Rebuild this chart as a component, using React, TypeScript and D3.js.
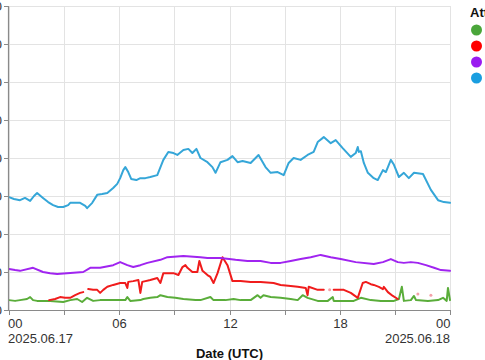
import React from "react";
import * as d3 from "d3";

const W = 485;
const H = 360;

const seriesNames = ["Series A", "Series B", "Series C", "Series D"];
const seriesColors = ["#5aad3a", "#f01c1c", "#a024f0", "#35a6d8"];
const legendColors = ["#4aa63a", "#ff0000", "#9a1cf0", "#1a9ee0"];

const yTicks = [0, 10, 20, 30, 40, 50, 60, 70, 80];
const xTickHours = [0, 3, 6, 9, 12, 15, 18, 21, 24];
const xTickLabels = ["00", "", "06", "", "12", "", "18", "", "00"];
const dateLabels = ["2025.06.17", "2025.06.18"];

// hours since 2025.06.17 00:00 UTC
const blueHours = [0, 0.27, 0.6, 0.87, 1.15, 1.36, 1.53, 1.85, 2.13, 2.4, 2.67, 2.95, 3.22, 3.33, 3.6, 3.87, 4.15, 4.25, 4.53, 4.8, 5.07, 5.35, 5.67, 5.89, 6.05, 6.22, 6.33, 6.49, 6.65, 6.93, 7.15, 7.42, 7.69, 8.07, 8.4, 8.67, 8.95, 9.16, 9.49, 9.76, 9.98, 10.2, 10.42, 10.8, 11.07, 11.24, 11.51, 11.89, 12.16, 12.44, 12.71, 13.15, 13.58, 13.96, 14.24, 14.62, 14.95, 15.22, 15.49, 15.87, 16.25, 16.58, 16.8, 17.13, 17.51, 17.78, 18.16, 18.6, 18.87, 18.98, 19.04, 19.15, 19.31, 19.53, 19.85, 20.07, 20.35, 20.51, 20.78, 20.95, 21.22, 21.49, 21.76, 22.04, 22.53, 22.96, 23.35, 23.67, 24];
const blueValues = [29.7, 29.2, 28.9, 29.5, 28.7, 30.0, 30.8, 29.5, 28.4, 27.6, 27.1, 27.1, 27.6, 28.2, 28.2, 28.2, 27.4, 26.8, 28.2, 30.3, 30.5, 30.8, 32.1, 33.2, 34.7, 36.8, 37.6, 36.3, 34.5, 34.2, 34.7, 34.7, 35.0, 35.5, 39.5, 41.6, 41.3, 40.8, 42.1, 42.4, 41.3, 42.4, 40.0, 38.9, 37.6, 36.1, 38.9, 39.5, 40.5, 38.9, 39.2, 38.7, 40.8, 37.6, 36.1, 36.3, 35.5, 38.7, 40.0, 39.5, 40.8, 41.6, 44.2, 45.5, 43.9, 44.7, 42.6, 40.3, 41.3, 42.9, 41.6, 41.8, 38.7, 36.1, 34.7, 34.2, 36.8, 36.3, 39.5, 38.2, 35.0, 36.1, 34.7, 36.1, 35.8, 31.6, 28.9, 28.4, 28.2];

const purpleHours = [0, 0.33, 0.6, 1.31, 1.85, 2.24, 2.62, 3.16, 4.04, 4.42, 4.96, 5.67, 6.05, 6.44, 6.76, 7.15, 7.53, 8.24, 8.62, 9.49, 10.42, 10.8, 11.51, 12.33, 12.98, 13.69, 14.24, 14.78, 15.33, 15.87, 16.42, 16.96, 17.51, 18.05, 18.87, 19.85, 20.35, 20.78, 21.16, 21.49, 21.87, 22.25, 22.69, 23.13, 23.51, 24];
const purpleValues = [10.8, 10.5, 10.3, 11.1, 10.0, 9.7, 9.5, 9.7, 10.0, 11.1, 11.1, 11.8, 12.6, 11.8, 11.3, 11.8, 12.4, 13.2, 13.9, 14.2, 13.9, 13.7, 13.7, 13.2, 12.9, 12.9, 12.4, 12.4, 12.9, 13.4, 13.9, 14.5, 13.9, 13.4, 12.6, 12.1, 12.6, 13.4, 12.6, 12.4, 12.6, 12.4, 11.8, 11.1, 10.5, 10.3];

// null = gap in data
const redHours = [2.18, 2.51, 2.78, 3.05, 3.33, 3.6, 3.87, 4.04, 4.18, 4.31, 4.58, 4.8, 4.96, 5.13, 5.35, 5.67, 6.05, 6.33, 6.44, 6.49, 6.76, 7.04, 7.15, 7.25, 7.69, 8.07, 8.24, 8.4, 8.62, 8.95, 9.22, 9.44, 9.6, 9.71, 9.98, 10.25, 10.36, 10.53, 10.8, 10.96, 11.13, 11.35, 11.62, 11.89, 12.16, 12.6, 13.15, 13.69, 14.4, 14.78, 15.33, 15.71, 16.15, 16.25, 16.31, 16.8, 17.13, 17.4, 17.67, 17.89, 18.22, 18.6, 18.98, 19.25, 19.42, 19.69, 19.85, 20.13, 20.35, 20.4, 20.62, 20.89, 21.16];
const redValues: (number | null)[] = [2.6, 2.9, 3.4, 3.2, 3.2, 3.9, 4.5, 4.7, null, 5.5, 5.3, 5.3, 4.5, 5.3, 6.1, 6.6, 7.1, 7.1, 5.8, 7.4, 7.6, 7.9, 4.5, 7.4, 7.9, 8.4, 7.1, 9.7, 9.7, 9.7, 9.2, 11.3, 11.8, 11.1, 10.0, 10.0, 12.9, 10.3, 9.2, 8.7, 7.1, 9.7, 13.9, 11.8, 7.6, 7.6, 7.4, 7.4, 7.1, 6.6, 6.3, 6.1, 5.8, 3.9, 6.1, 5.3, 5.3, null, 5.3, 5.3, 5.3, 4.5, 3.2, 7.1, 7.4, 6.8, 6.6, 6.1, 5.5, 6.1, 4.7, 3.7, 2.9];
const redDotHours = [17.45, 22.25, 22.96];
const redDotValues = [5.3, 4.2, 3.9];

const greenHours = [0, 0.33, 0.6, 0.98, 1.15, 1.31, 1.53, 1.96, 2.24, 2.95, 3.33, 3.71, 3.98, 4.25, 4.58, 4.96, 5.35, 6.05, 6.33, 6.44, 6.6, 7.15, 7.31, 7.69, 8.07, 8.24, 8.62, 9.05, 9.49, 10.15, 10.42, 10.96, 11.13, 11.78, 12.22, 12.6, 13.15, 13.53, 13.69, 13.85, 14.24, 14.78, 15.33, 15.71, 15.98, 16.25, 16.8, 17.35, 17.62, 17.67, 18.33, 18.76, 19.15, 19.69, 20.24, 20.95, 21.22, 21.38, 21.49, 21.87, 22.04, 22.15, 22.8, 23.35, 23.62, 23.82, 23.89, 24];
const greenValues = [2.6, 2.4, 2.6, 2.9, 3.4, 2.6, 2.4, 2.4, 2.4, 2.1, 2.6, 2.9, 2.1, 3.2, 2.4, 2.6, 2.6, 2.6, 2.6, 3.4, 2.4, 2.6, 2.9, 3.2, 3.4, 3.9, 3.4, 3.2, 2.9, 2.6, 2.6, 3.4, 2.6, 2.6, 2.9, 2.6, 2.6, 3.9, 3.2, 3.9, 3.4, 3.2, 2.9, 2.6, 3.9, 3.2, 2.4, 2.4, 3.4, 2.4, 2.4, 2.4, 3.2, 2.6, 2.4, 2.4, 2.9, 6.1, 2.4, 2.6, 3.7, 2.6, 2.4, 2.6, 3.2, 2.4, 5.8, 2.6];

const start = Date.UTC(2025, 5, 17, 0, 0, 0);
const toDate = (h: number) => new Date(start + h * 3600 * 1000);

type Pt = { t: Date; v: number | null };
const zipSeries = (hs: number[], vs: (number | null)[]): Pt[] =>
  hs.map((h, i) => ({ t: toDate(h), v: vs[i] }));

const series = [
  zipSeries(greenHours, greenValues),
  zipSeries(redHours, redValues),
  zipSeries(purpleHours, purpleValues),
  zipSeries(blueHours, blueValues),
];

const margin = { left: 8.5, right: 35, top: 6, bottom: 50 };
const plotRight = 450;
const plotBottom = 310;

export default function App() {
  const x = d3
    .scaleUtc()
    .domain([toDate(0), toDate(24)])
    .range([9, plotRight]);
  const y = d3.scaleLinear().domain([0, 80]).range([plotBottom, margin.top]);

  const line = d3
    .line<Pt>()
    .defined((d) => d.v !== null)
    .x((d) => x(d.t))
    .y((d) => y(d.v as number))
    .curve(d3.curveLinear);

  const font = "Arial, 'Liberation Sans', Helvetica, sans-serif";

  return (
    <svg
      width={W}
      height={H}
      style={{ position: "absolute", left: 0, top: 0, background: "#fff" }}
      fontFamily={font}
    >
      {/* horizontal gridlines */}
      {yTicks.map((t) => (
        <line
          key={"hg" + t}
          x1={8.5}
          x2={plotRight}
          y1={Math.round(y(t)) + 0.5}
          y2={Math.round(y(t)) + 0.5}
          stroke="#e3e3e3"
          strokeWidth={1}
        />
      ))}
      {/* vertical gridlines */}
      {xTickHours.map((h) => (
        <line
          key={"vg" + h}
          x1={Math.round(x(toDate(h))) + 0.5}
          x2={Math.round(x(toDate(h))) + 0.5}
          y1={margin.top}
          y2={plotBottom}
          stroke="#e3e3e3"
          strokeWidth={1}
        />
      ))}

      {/* series lines */}
      {series.map((s, i) => (
        <path
          key={"s" + i}
          d={line(s) || ""}
          fill="none"
          stroke={seriesColors[i]}
          strokeWidth={2}
          strokeLinejoin="round"
          strokeLinecap="round"
        />
      ))}
      {redDotHours.map((h, i) => (
        <circle
          key={"rd" + i}
          cx={x(toDate(h))}
          cy={y(redDotValues[i])}
          r={1.5}
          fill="#f4a0a8"
        />
      ))}

      {/* y axis */}
      <line x1={8.5} x2={8.5} y1={margin.top} y2={plotBottom} stroke="#8a8a8a" strokeWidth={1.2} />
      {yTicks.map((t) => (
        <g key={"yt" + t}>
          <line
            x1={4}
            x2={8.5}
            y1={Math.round(y(t)) + 0.5}
            y2={Math.round(y(t)) + 0.5}
            stroke="#8a8a8a"
          />
          <text x={2} y={y(t)} dy="0.35em" textAnchor="end" fontSize={13} fill="#333">
            {t}
          </text>
        </g>
      ))}

      {/* x axis */}
      <line x1={8} x2={plotRight} y1={plotBottom + 0.5} y2={plotBottom + 0.5} stroke="#8a8a8a" strokeWidth={1.2} />
      {xTickHours.map((h, i) => {
        const px = Math.round(x(toDate(h))) + 0.5;
        const anchor = i === 0 ? "start" : i === xTickHours.length - 1 ? "end" : "middle";
        return (
          <g key={"xt" + h}>
            <line x1={px} x2={px} y1={plotBottom} y2={plotBottom + 5} stroke="#8a8a8a" />
            {xTickLabels[i] && (
              <text x={i === 0 ? 8 : px} y={plotBottom + 18} textAnchor={anchor} fontSize={13} fill="#333">
                {xTickLabels[i]}
              </text>
            )}
          </g>
        );
      })}
      <text x={8} y={plotBottom + 33} textAnchor="start" fontSize={13} fill="#333">
        {dateLabels[0]}
      </text>
      <text x={plotRight} y={plotBottom + 33} textAnchor="end" fontSize={13} fill="#333">
        {dateLabels[1]}
      </text>
      <text x={229.5} y={plotBottom + 48} textAnchor="middle" fontSize={13} fontWeight="bold" fill="#111">
        Date (UTC)
      </text>

      {/* legend */}
      <text x={470} y={17} fontSize={13} fontWeight="bold" fill="#111">
        Attribute
      </text>
      {seriesNames.map((n, i) => (
        <g key={"lg" + i}>
          <circle cx={476.5} cy={30 + i * 16} r={5.5} fill={legendColors[i]} />
          <text x={488} y={30 + i * 16} dy="0.35em" fontSize={12} fill="#333">
            {n}
          </text>
        </g>
      ))}
    </svg>
  );
}
